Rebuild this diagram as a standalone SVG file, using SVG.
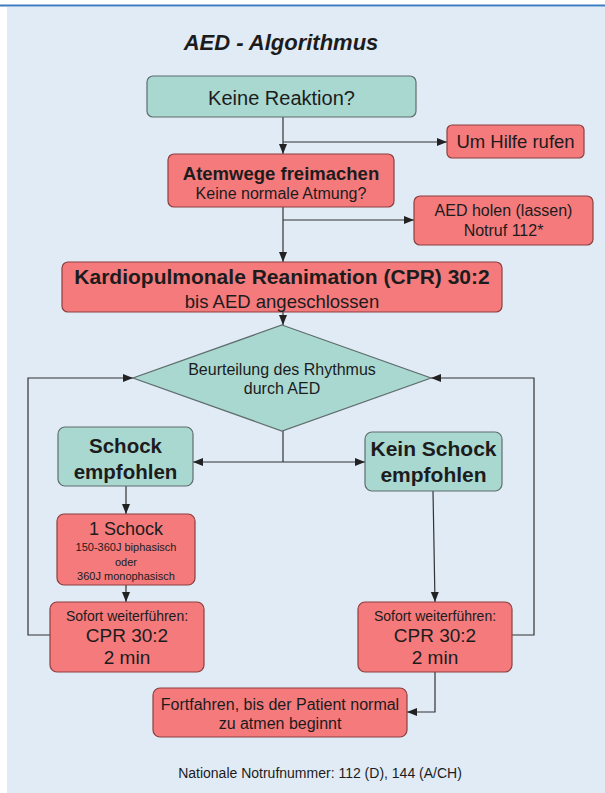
<svg xmlns="http://www.w3.org/2000/svg" width="605" height="793" viewBox="0 0 605 793">
<defs>
<marker id="ah" markerUnits="userSpaceOnUse" markerWidth="10" markerHeight="10" viewBox="0 0 10 10" refX="10" refY="5" orient="auto">
<path d="M0,1 L10,5 L0,9 z" fill="#222"/>
</marker>
<style>
.red{fill:#f47a7c;stroke:#8c3f3f;stroke-width:1.2}
.teal{fill:#a9d8d1;stroke:#5f6d6c;stroke-width:1.2}
.t{font-family:"Liberation Sans",Arial,sans-serif;fill:#1c1c1c;text-anchor:middle}
.b{font-weight:bold}
.c{fill:none;stroke:#333;stroke-width:1.2;marker-end:url(#ah)}
.l{fill:none;stroke:#333;stroke-width:1.2}
</style>
</defs>
<rect x="0" y="0" width="605" height="793" fill="#ffffff"/>
<rect x="7" y="7" width="598" height="786" fill="#e0ebf6"/>
<rect x="0" y="4.5" width="605" height="2" fill="#3a7dc2"/>
<text class="t b" x="281" y="50" font-size="22" font-style="italic">AED - Algorithmus</text>

<g id="connectors">
<path class="c" d="M283,117 V154"/>
<path class="c" d="M283,142 H447"/>
<path class="c" d="M283,207 V262"/>
<path class="c" d="M283,220 H414"/>
<path class="c" d="M283,312 V325"/>
<path class="l" d="M283,431 V462"/>
<path class="c" d="M283,462 H193"/>
<path class="c" d="M283,462 H365"/>
<path class="c" d="M50,635 H28 V378 H133"/>
<path class="c" d="M512,635 H534 V378 H431"/>
<path class="c" d="M126,486 V514"/>
<path class="c" d="M126,585 V602"/>
<path class="c" d="M433,491 L435,602"/>
<path class="c" d="M435,672 V712 H407"/>
</g>

<g id="keine-reaktion">
<rect class="teal" x="147" y="76" width="269" height="41" rx="6"/>
<text class="t" x="281.5" y="105" font-size="20">Keine Reaktion?</text>
</g>
<g id="um-hilfe">
<rect class="red" x="447" y="125" width="137" height="33" rx="5"/>
<text class="t" x="515.5" y="148" font-size="18.5">Um Hilfe rufen</text>
</g>
<g id="atemwege">
<rect class="red" x="168" y="154" width="226" height="53" rx="6"/>
<text class="t b" x="281" y="180" font-size="18.5">Atemwege freimachen</text>
<text class="t" x="281" y="199" font-size="16">Keine normale Atmung?</text>
</g>
<g id="aed-holen">
<rect class="red" x="414" y="196" width="179" height="49" rx="6"/>
<text class="t" x="503.5" y="216" font-size="16">AED holen (lassen)</text>
<text class="t" x="503.5" y="236" font-size="16">Notruf 112*</text>
</g>
<g id="cpr">
<rect class="red" x="62" y="262" width="440" height="50" rx="6"/>
<text class="t b" x="282" y="284" font-size="21">Kardiopulmonale Reanimation (CPR) 30:2</text>
<text class="t" x="282" y="308" font-size="18.5">bis AED angeschlossen</text>
</g>
<g id="beurteilung">
<polygon class="teal" points="282,325 431,378 282,431 133,378"/>
<text class="t" x="282" y="375" font-size="16">Beurteilung des Rhythmus</text>
<text class="t" x="282" y="394" font-size="16">durch AED</text>
</g>
<g id="schock">
<rect class="teal" x="58" y="427" width="135" height="59" rx="7"/>
<text class="t b" x="125.5" y="453" font-size="20.5">Schock</text>
<text class="t b" x="125.5" y="479" font-size="20.5">empfohlen</text>
</g>
<g id="kein-schock">
<rect class="teal" x="365" y="432" width="137" height="59" rx="7"/>
<text class="t b" x="433.5" y="456" font-size="21">Kein Schock</text>
<text class="t b" x="433.5" y="482" font-size="21">empfohlen</text>
</g>
<g id="ein-schock">
<rect class="red" x="57" y="514" width="138" height="71" rx="7"/>
<text class="t" x="126" y="535" font-size="18">1 Schock</text>
<text class="t" x="126" y="551" font-size="11">150-360J biphasisch</text>
<text class="t" x="126" y="566" font-size="11">oder</text>
<text class="t" x="126" y="580" font-size="11">360J monophasisch</text>
</g>
<g id="cpr-links">
<rect class="red" x="50" y="602" width="154" height="70" rx="7"/>
<text class="t" x="127" y="621" font-size="14">Sofort weiterführen:</text>
<text class="t" x="127" y="642" font-size="19">CPR 30:2</text>
<text class="t" x="127" y="664" font-size="19">2 min</text>
</g>
<g id="cpr-rechts">
<rect class="red" x="358" y="602" width="154" height="70" rx="7"/>
<text class="t" x="435" y="621" font-size="14">Sofort weiterführen:</text>
<text class="t" x="435" y="642" font-size="19">CPR 30:2</text>
<text class="t" x="435" y="664" font-size="19">2 min</text>
</g>
<g id="fortfahren">
<rect class="red" x="153" y="688" width="254" height="49" rx="7"/>
<text class="t" x="280" y="710" font-size="16">Fortfahren, bis der Patient normal</text>
<text class="t" x="280" y="729" font-size="16">zu atmen beginnt</text>
</g>
<text class="t" x="320" y="778" font-size="14">Nationale Notrufnummer: 112 (D), 144 (A/CH)</text>
</svg>
